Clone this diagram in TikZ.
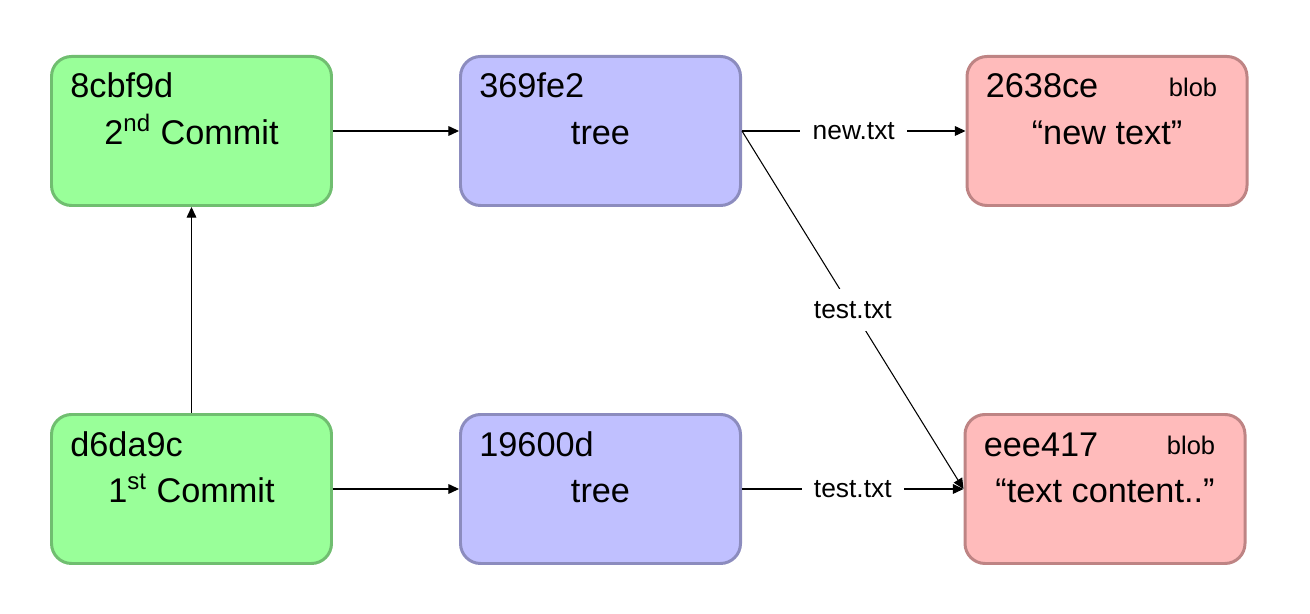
\documentclass[tikz,border=0pt]{standalone}
\usepackage{fontspec}
\setmainfont{Liberation Sans}
\usetikzlibrary{arrows.meta}
\usetikzlibrary{positioning}
\definecolor{commitfill}{HTML}{99FF99}
\definecolor{commitline}{HTML}{70BE70}
\definecolor{treefill}{HTML}{C0C0FF}
\definecolor{treeline}{HTML}{8C8CBE}
\definecolor{blobfill}{HTML}{FFBBBB}
\definecolor{blobline}{HTML}{BE8484}
\tikzset{obj/.style = {draw, line width = 1.7pt, rounded corners = 0.4cm, minimum width = 5.6cm, minimum height = 2.98cm, text height = 0.56cm, text depth = 0cm, font = \fontsize{19.5}{23}\selectfont}}
\tikzset{commit/.style = {obj, fill = commitfill, draw = commitline}}
\tikzset{tree/.style = {obj, fill = treefill, draw = treeline}}
\tikzset{blob/.style = {obj, fill = blobfill, draw = blobline}}
\tikzset{hash/.style = {inner sep = 0, anchor = base west, font = \fontsize{19.5}{23}\selectfont}}
\tikzset{kind/.style = {inner sep = 0, anchor = base east, font = \fontsize{14.5}{17}\selectfont}}
\tikzset{ref/.style = {-{Triangle[length = 6pt, width = 5.5pt]}, line width = 0.6pt}}
\tikzset{fname/.style = {fill = white, inner sep = 7pt, font = \fontsize{15}{18}\selectfont}}
\begin{document}
\begin{tikzpicture}
      \useasboundingbox (0, 0) rectangle (26.2, -12.28);
      \node [commit] (c2) at (3.83, -2.62) {2\textsuperscript{nd} Commit};
      \node [tree] (t2) at (12.01, -2.62) {tree};
      \node [blob] (b2) at (22.14, -2.62) {“new text”};
      \node [commit] (c1) at (3.83, -9.78) {1\textsuperscript{st} Commit};
      \node [tree] (t1) at (12.01, -9.78) {tree};
      \node [blob] (b1) at (22.10, -9.78) {“text content..”};
      \node [hash] (c2id) at ([shift = {(0.4, -0.86)}]c2.north west) {8cbf9d};
      \node [hash] (t2id) at ([shift = {(0.4, -0.86)}]t2.north west) {369fe2};
      \node [hash] (b2id) at ([shift = {(0.4, -0.86)}]b2.north west) {2638ce};
      \node [hash] (c1id) at ([shift = {(0.4, -0.86)}]c1.north west) {d6da9c};
      \node [hash] (t1id) at ([shift = {(0.4, -0.86)}]t1.north west) {19600d};
      \node [hash] (b1id) at ([shift = {(0.4, -0.86)}]b1.north west) {eee417};
      \node [kind] (b2kind) at ([shift = {(-0.62, -0.82)}]b2.north east) {blob};
      \node [kind] (b1kind) at ([shift = {(-0.62, -0.82)}]b1.north east) {blob};
      \draw [ref] (c2.east) -- (t2.west);
      \draw [ref] (c1.east) -- (t1.west);
      \draw [ref] (c1.north) -- (c2.south);
      \draw [ref] (t2.east) -- (b2.west) node [pos = 0.5, fname] (newtxt) {new.txt};
      \draw [ref] (t2.east) -- (b1.west) node [pos = 0.5, fname] (testtxt2) {test.txt};
      \draw [ref] (t1.east) -- (b1.west) node [pos = 0.5, fname] (testtxt1) {test.txt};
    \end{tikzpicture}
\end{document}
